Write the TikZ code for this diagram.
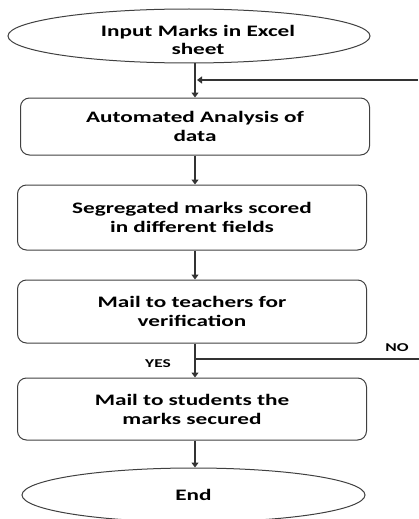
\documentclass[tikz,border=0pt]{standalone}
\usepackage{fontspec}
\setmainfont{Carlito}
\newfontfamily\widefont[FakeStretch=1.45]{Carlito}
\usetikzlibrary{shapes.geometric,arrows.meta}
\begin{document}
\begin{tikzpicture}[x=1pt,y=1pt,
  line/.style={draw=black!80,line width=1.3pt},
  arr/.style={line,-{Triangle[length=5pt,width=7pt]}},
  txt/.style={font=\widefont\bfseries\fontsize{16}{19}\selectfont},
  procbox/.style={txt,draw=black!75,line width=1pt,rounded corners=9pt,minimum width=349pt,align=center,inner sep=0pt},
  term/.style={txt,draw=black!75,line width=1pt,ellipse,inner sep=0pt,align=center},
  lbl/.style={font=\widefont\bfseries\fontsize{12}{13}\selectfont,inner sep=0pt}]
\useasboundingbox (0,0) rectangle (419,-519);
\node[term,minimum width=362pt,minimum height=54pt] (start) at (189,-36) {};
\node[txt,font=\widefont\bfseries\fontsize{16}{17.5}\selectfont,align=center,inner sep=0pt] (starttext) at (198,-40) {Input Marks in Excel\\sheet};
\node[procbox,minimum height=57pt] (b1) at (195,-126.5) {Automated Analysis of\\data};
\node[procbox,minimum height=65pt] (b2) at (192,-217.5) {Segregated marks scored\\in different fields};
\node[procbox,minimum height=63pt] (b3) at (192,-311.5) {Mail to teachers for\\verification};
\node[procbox,minimum height=62pt] (b4) at (192,-409) {Mail to students the\\marks secured};
\node[term,minimum width=343pt,minimum height=54pt] (end) at (193.5,-495) {End};
\coordinate (fb) at (418,-80);
\coordinate (no) at (419,-359);
\node[lbl] (nolbl) at (397,-348) {NO};
\node[lbl] (yeslbl) at (158,-364) {YES};
\draw[arr] (start.south -| b1.north) -- (b1.north);
\draw[arr] (fb) -- ([xshift=2pt]b1.north |- fb);
\draw[arr] (b1.south -| 195,0) -- (b2.north -| 195,0);
\draw[arr] (b2.south -| 195,0) -- (b3.north -| 195,0);
\draw[arr] (b3.south -| 195,0) -- (b4.north -| 195,0);
\draw[line] (no) -- (no -| 195,0);
\draw[arr] (b4.south -| 195,0) -- (end.north -| 195,0);
\end{tikzpicture}
\end{document}
